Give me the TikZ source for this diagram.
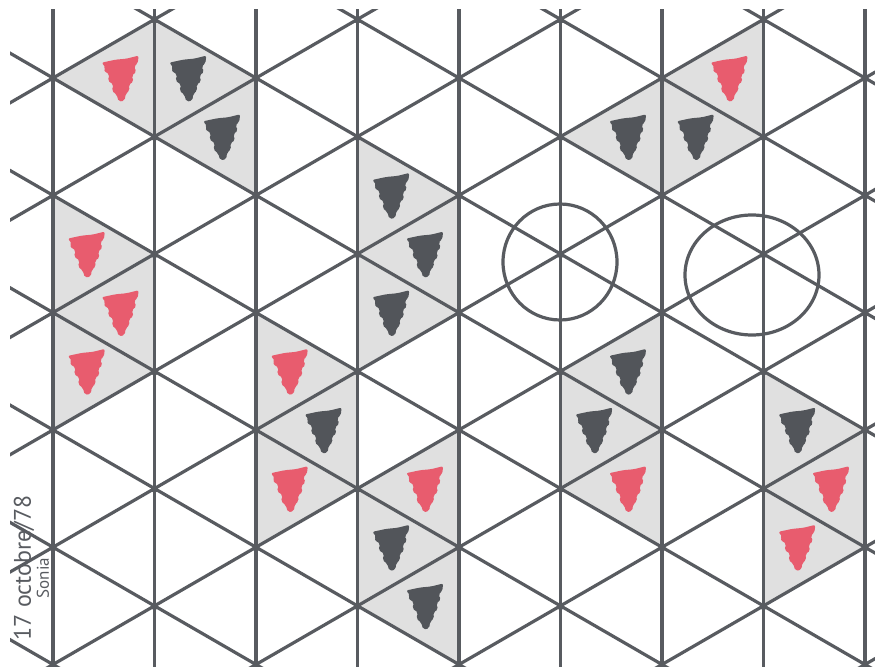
\documentclass[tikz,border=0pt]{standalone}
\usepackage{fontspec}
\newfontfamily\handfont{PT Sans}
\definecolor{gridink}{RGB}{88,91,96}
\definecolor{redink}{RGB}{232,92,110}
\definecolor{darkink}{RGB}{82,85,90}
\definecolor{paneink}{RGB}{224,224,224}
\begin{document}
\begin{tikzpicture}[x=1pt, y=-1pt,
  gridline/.style={draw=gridink, line width=3.2pt},
  pane/.style={fill=paneink},
  ring/.style={draw=gridink, line width=3.2pt},
  note/.style={rotate=90, text=gridink, inner sep=0pt},
  pics/blob/.style={code={
    \fill[fill=#1, rounded corners=2pt] (-19,-16) -- (-5,-19) -- (6,-20) -- (18,-23) -- (17,-15)
      -- (13,-12) -- (16,-7) -- (11,-3) -- (13,3) -- (8,6) -- (9,12) -- (5,15) -- (4,22)
      -- (-2,23) -- (-4,16) -- (-9,12) -- (-7,6) -- (-13,2) -- (-11,-4) -- (-17,-8) -- (-15,-11) -- cycle;
  }}
]
\useasboundingbox (0,0) rectangle (875,668);
\foreach \i in {0,...,8}
  \foreach \m in {0,...,11}
    \coordinate (v-\i-\m) at ({53+101.5*\i},{20+58.65*\m});

\foreach \a/\b/\c/\ink in {0-1/1-0/1-2/redink, 1-0/2-1/1-2/darkink, 1-2/2-1/2-3/darkink,
    0-3/1-4/0-5/redink, 0-5/1-4/1-6/redink, 0-5/1-6/0-7/redink,
    2-5/3-6/2-7/redink, 2-7/3-6/3-8/darkink, 2-7/3-8/2-9/redink,
    3-2/4-3/3-4/darkink, 3-4/4-3/4-5/darkink, 3-4/4-5/3-6/darkink,
    3-8/4-7/4-9/redink, 3-8/4-9/3-10/darkink, 3-10/4-9/4-11/darkink,
    5-2/6-1/6-3/darkink, 6-1/7-2/6-3/darkink, 6-1/7-0/7-2/redink,
    5-6/6-5/6-7/darkink, 5-6/6-7/5-8/darkink, 5-8/6-7/6-9/redink,
    7-6/8-7/7-8/darkink, 7-8/8-7/8-9/redink, 7-8/8-9/7-10/redink} {
  \fill[pane] (v-\a) -- (v-\b) -- (v-\c) -- cycle;
  \pic at (barycentric cs:v-\a=1,v-\b=1,v-\c=1) {blob=\ink};
}

\begin{scope}
  \clip (10,10) rectangle (875,666);
  \foreach \i in {0,...,8}
    \draw[gridline] (v-\i-0) ++(0,-20) -- ++(0,700);
  \foreach \k in {-5,...,6}
    \draw[gridline] (0,{47.38+117.3*\k}) -- ++(880,508.5);
  \foreach \k in {0,...,10}
    \draw[gridline] (0,{108.62+117.3*\k}) -- ++(880,-508.5);
  \foreach \i in {0,...,8}
    \foreach \m in {0,...,11} {
      \pgfmathtruncatemacro\odd{mod(\i+\m,2)}
      \ifnum\odd=1 \fill[gridink] (v-\i-\m) circle[radius=3.6pt]; \fi
    }
\end{scope}

\draw[ring] (560,262) ellipse [x radius=57pt, y radius=58pt];
\draw[ring] (752,275) ellipse [x radius=67pt, y radius=60pt];

\node[note, font=\handfont\fontsize{24}{24}\selectfont] (date) at (24,568) {17 octobre/78};
\node[note, font=\handfont\fontsize{17}{17}\selectfont] (name) at (43,578) {Sonia};
\end{tikzpicture}
\end{document}
